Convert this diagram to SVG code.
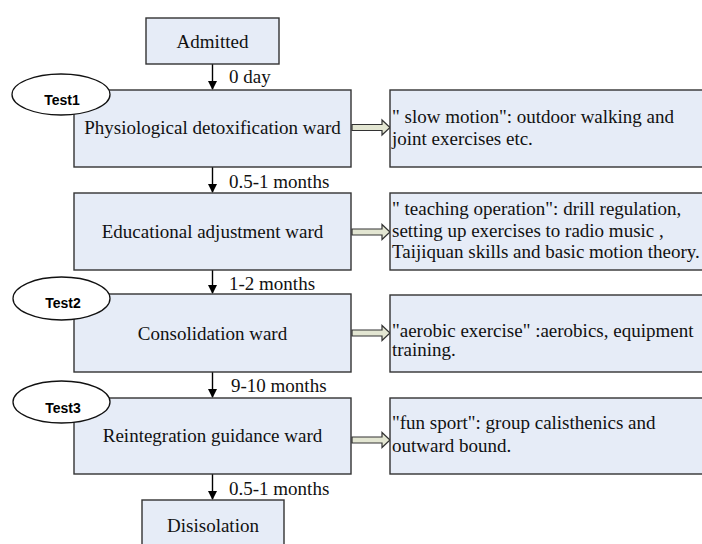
<svg xmlns="http://www.w3.org/2000/svg" width="702" height="544" viewBox="0 0 702 544">
<style>
.box{fill:#e6ecf7;stroke:#333;stroke-width:1.4}
.oval{fill:#fff;stroke:#111;stroke-width:1.3}
.t{font-family:'Liberation Serif','Times New Roman',Times,serif;font-size:19px;fill:#111}
.c{text-anchor:middle}
.tst{font-family:'Liberation Sans',Arial,sans-serif;font-size:14px;font-weight:bold;fill:#000;text-anchor:middle}
.ln{stroke:#000;stroke-width:1.4;fill:none}
.fat{fill:#e3e6d2;stroke:#333;stroke-width:1.2}
</style>
<defs>
<marker id="ah" markerWidth="10" markerHeight="10" refX="8" refY="5" orient="auto" markerUnits="userSpaceOnUse">
<path d="M0,0.5 L9,5 L0,9.5 Z" fill="#000"/>
</marker>
<path id="fatArrow" class="fat" d="M0,-3 L30,-3 L30,-7.5 L38,0 L30,7.5 L30,3 L0,3 Z"/>
</defs>

<g id="connectors">
<line class="ln" x1="212.5" y1="64" x2="212.5" y2="89" marker-end="url(#ah)"/>
<line class="ln" x1="212.5" y1="167" x2="212.5" y2="192" marker-end="url(#ah)"/>
<line class="ln" x1="212.5" y1="270" x2="212.5" y2="293" marker-end="url(#ah)"/>
<line class="ln" x1="212.5" y1="372" x2="212.5" y2="397" marker-end="url(#ah)"/>
<line class="ln" x1="212.5" y1="474" x2="212.5" y2="499" marker-end="url(#ah)"/>
<use href="#fatArrow" x="352" y="127.5"/>
<use href="#fatArrow" x="352" y="232"/>
<use href="#fatArrow" x="352" y="333"/>
<use href="#fatArrow" x="352" y="440"/>
<text class="t" x="229" y="83" font-family="Liberation Serif, serif">0 day</text>
<text class="t" x="229" y="188" font-family="Liberation Serif, serif">0.5-1 months</text>
<text class="t" x="229" y="290" font-family="Liberation Serif, serif">1-2 months</text>
<text class="t" x="231" y="392" font-family="Liberation Serif, serif">9-10 months</text>
<text class="t" x="229" y="495" font-family="Liberation Serif, serif">0.5-1 months</text>
</g>

<g id="admitted">
<rect class="box" x="146" y="18" width="133" height="46"/>
<text class="t c" x="212.5" y="48">Admitted</text>
</g>

<g id="physiological">
<rect class="box" x="74" y="90" width="277" height="77"/>
<text class="t c" x="212.5" y="134">Physiological detoxification ward</text>
</g>
<g id="test1">
<ellipse class="oval" cx="61" cy="94.5" rx="49" ry="20.5"/>
<text class="tst" x="62" y="105">Test1</text>
</g>

<g id="educational">
<rect class="box" x="74" y="193" width="277" height="77"/>
<text class="t c" x="212.5" y="238">Educational adjustment ward</text>
</g>

<g id="consolidation">
<rect class="box" x="74" y="294" width="277" height="78"/>
<text class="t c" x="212.5" y="340">Consolidation ward</text>
</g>
<g id="test2">
<ellipse class="oval" cx="61.5" cy="298.5" rx="48.5" ry="21.5"/>
<text class="tst" x="63" y="308">Test2</text>
</g>

<g id="reintegration">
<rect class="box" x="74" y="398" width="277" height="76"/>
<text class="t c" x="212.5" y="442">Reintegration guidance ward</text>
</g>
<g id="test3">
<ellipse class="oval" cx="61.5" cy="402" rx="48.5" ry="21"/>
<text class="tst" x="63" y="412.5">Test3</text>
</g>

<g id="disisolation">
<rect class="box" x="142" y="500" width="142" height="60"/>
<text class="t c" x="213" y="532">Disisolation</text>
</g>

<g id="slowmotion">
<rect class="box" x="390" y="90" width="330" height="77"/>
<text class="t" x="392" y="123">" slow motion": outdoor walking and</text>
<text class="t" x="392" y="145">joint exercises etc.</text>
</g>

<g id="teaching">
<rect class="box" x="390" y="193" width="330" height="77"/>
<text class="t" x="392" y="215">" teaching operation": drill regulation,</text>
<text class="t" x="392" y="237">setting up exercises to radio music ,</text>
<text class="t" x="392" y="258">Taijiquan skills and basic motion theory.</text>
</g>

<g id="aerobic">
<rect class="box" x="390" y="295" width="330" height="77"/>
<text class="t" x="392" y="337">"aerobic exercise" :aerobics, equipment</text>
<text class="t" x="392" y="356">training.</text>
</g>

<g id="funsport">
<rect class="box" x="390" y="398" width="330" height="76"/>
<text class="t" x="392" y="429">"fun sport": group calisthenics and</text>
<text class="t" x="392" y="452">outward bound.</text>
</g>
</svg>
